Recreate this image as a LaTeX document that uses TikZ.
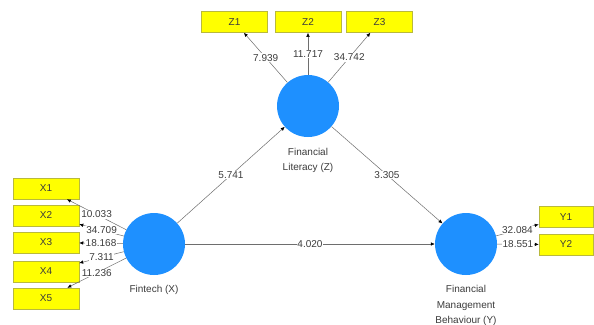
\documentclass[tikz,border=0pt]{standalone}
\usepackage{fontspec}
\setmainfont{Liberation Sans}
\usetikzlibrary{arrows.meta}
\definecolor{cblue}{RGB}{30,144,255}
\definecolor{byel}{RGB}{255,255,0}
\definecolor{bedge}{RGB}{185,185,60}
\definecolor{tgray}{RGB}{60,60,60}
\definecolor{lgray}{RGB}{110,110,110}
\begin{document}
\begin{tikzpicture}[x=1pt,y=-1pt,
 lv/.style={circle,fill=cblue,draw=none,minimum size=62pt,inner sep=0pt},
 ind/.style={rectangle,fill=byel,draw=bedge,line width=0.5pt,minimum width=66pt,minimum height=21pt,inner sep=0pt,font=\fontsize{10}{12}\selectfont,text=tgray},
 lab/.style={font=\fontsize{10}{15.5}\selectfont,text=tgray,align=center,inner sep=2pt,anchor=north},
 conn/.style={draw=lgray,line width=0.5pt,-{Latex[length=4pt,width=3.5pt,color=black]}},
 val/.style={fill=white,inner sep=0.8pt,font=\fontsize{10}{12}\selectfont,text=tgray,pos=0.5}]
\useasboundingbox[fill=white] (0,0) rectangle (594,324);
% latent variables
\node[lv] (Z) at (308,106) {};
\node[lv] (X) at (154,244) {};
\node[lv] (Y) at (466,244) {};
\node[lab] (Zl) at (308,146) {Financial\\Literacy (Z)};
\node[lab] (Xl) at (154,283.3) {Fintech (X)};
\node[lab] (Yl) at (466,283.3) {Financial\\Management\\Behaviour (Y)};
% indicators
\node[ind] (Z1) at (234.5,22) {Z1};
\node[ind] (Z2) at (308,22) {Z2};
\node[ind] (Z3) at (379.5,22) {Z3};
\node[ind] (X1) at (46,188.5) {X1};
\node[ind] (X2) at (46,215.5) {X2};
\node[ind] (X3) at (46,242.5) {X3};
\node[ind] (X4) at (46,271.5) {X4};
\node[ind] (X5) at (46,298.5) {X5};
\node[ind,minimum width=54pt] (Y1) at (566,217) {Y1};
\node[ind,minimum width=54pt] (Y2) at (566,244.5) {Y2};
% outer loadings
\draw[conn] (Z) -- node[val]{7.939} (Z1);
\draw[conn] (Z) -- node[val]{11.717} (Z2);
\draw[conn] (Z) -- node[val]{34.742} (Z3);
\draw[conn] (X) -- node[val]{10.033} (X1);
\draw[conn] (X) -- node[val]{34.709} (X2);
\draw[conn] (X) -- node[val]{18.168} (X3);
\draw[conn] (X) -- node[val]{7.311} (X4);
\draw[conn] (X) -- node[val]{11.236} (X5);
\draw[conn] (Y) -- node[val]{32.084} (Y1);
\draw[conn] (Y) -- node[val]{18.551} (Y2);
% inner paths
\draw[conn] (X) -- node[val]{5.741} (Z);
\draw[conn] (Z) -- node[val]{3.305} (Y);
\draw[conn] (X) -- node[val]{4.020} (Y);
\end{tikzpicture}
\end{document}
